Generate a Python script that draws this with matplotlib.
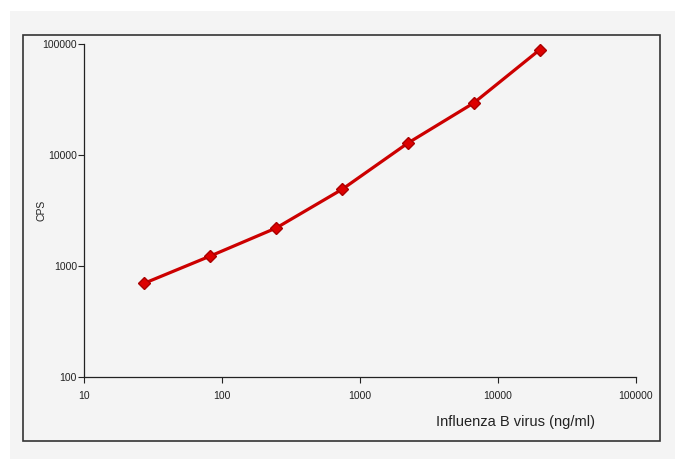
import numpy as np
import matplotlib.pyplot as plt
from matplotlib.patches import Rectangle

# 3-fold dilution series
conc = [27.4, 82.3, 247, 741, 2222, 6667, 20000]
cps = [700, 1230, 2200, 4900, 12800, 29400, 88500]

x_ticks = [10, 100, 1000, 10000, 100000]
y_ticks = [100, 1000, 10000, 100000]

plt.rcParams['font.family'] = ['Liberation Sans Narrow', 'Liberation Sans', 'DejaVu Sans']

fig = plt.figure(figsize=(6.8, 4.66), dpi=100)
fig.patch.set_facecolor('white')
# light grey panel and black frame behind the plot
fig.patches.append(Rectangle((10/680, 1 - 459/466), 665/680, 448/466,
                             transform=fig.transFigure, facecolor='#f4f4f4',
                             edgecolor='none', zorder=-2))
fig.patches.append(Rectangle((23/680, 1 - 441/466), 637/680, 406/466,
                             transform=fig.transFigure, facecolor='none',
                             edgecolor='#333333', linewidth=1.2, zorder=-1))

ax = fig.add_axes([84/680, 1 - 377/466, 552/680, 333/466])
ax.set_zorder(5)
ax.set_facecolor('none')
ax.set_xscale('log')
ax.set_yscale('log')
ax.set_xlim(10, 100000)
ax.set_ylim(100, 100000)

ax.plot(conc, cps, color='#cc0000', linewidth=2.3, marker='D', markersize=6.5,
        markerfacecolor='#dd0000', markeredgecolor='#aa0000', zorder=3)

ax.set_xticks(x_ticks)
ax.set_xticklabels([str(v) for v in x_ticks])
ax.set_yticks(y_ticks)
ax.set_yticklabels([str(v) for v in y_ticks])
ax.minorticks_off()
ax.tick_params(axis='both', labelsize=7.5, colors='#222222', length=4, width=0.8)
ax.tick_params(axis='x', pad=6)
ax.tick_params(axis='y', pad=1)

for s in ['top', 'right']:
    ax.spines[s].set_visible(False)
for s in ['left', 'bottom']:
    ax.spines[s].set_color('#222222')
    ax.spines[s].set_linewidth(0.9)

ax.set_ylabel('CPS', fontsize=7.5, color='#222222')
ax.yaxis.set_label_coords(-0.068, 0.5)
fig.text(515/680, 1 - 422/466, 'Influenza B virus (ng/ml)', fontsize=10.5,
         color='#222222', ha='center', va='center')

fig.savefig('out.png', dpi=100)
